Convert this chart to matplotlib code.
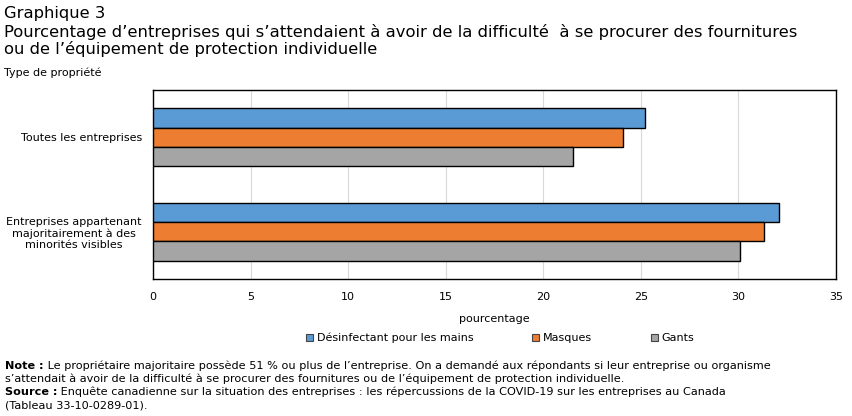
import numpy as np
import matplotlib
matplotlib.use("Agg")
import matplotlib.pyplot as plt
from matplotlib.patches import Patch

categories = ["Toutes les entreprises",
              "Entreprises appartenant\nmajoritairement à des\nminorités visibles"]
series = ["Désinfectant pour les mains", "Masques", "Gants"]
desinfectant = [25.2, 32.1]
masques = [24.1, 31.3]
gants = [21.5, 30.1]
colors = ["#5B9BD5", "#ED7D31", "#A5A5A5"]
xticks = [0, 5, 10, 15, 20, 25, 30, 35]

plt.rcParams['font.family'] = ['DejaVu Sans']

fig = plt.figure(figsize=(8.52, 4.16), dpi=100)
ax = fig.add_axes([153/852, 1 - 279/416, (836 - 153)/852, (279 - 90)/416])

y = np.arange(len(categories))
h = 0.205
for i, (vals, c) in enumerate(zip([desinfectant, masques, gants], colors)):
    ax.barh(y + (i - 1) * h, vals, height=h, color=c, edgecolor="black", linewidth=1, zorder=3)

ax.set_xlim(0, 35)
ax.set_ylim(1.5, -0.5)
ax.set_xticks(xticks)
ax.set_xticklabels([str(t) for t in xticks], fontsize=8)
ax.set_yticks(y)
ax.set_yticklabels(categories, fontsize=8, multialignment="center")
ax.tick_params(length=0, pad=8)
ax.tick_params(axis="x", pad=9)
ax.grid(axis="x", color="#d9d9d9", linewidth=0.8, zorder=0)
for s in ax.spines.values():
    s.set_linewidth(1)
ax.set_xlabel("pourcentage", fontsize=8, labelpad=9)

# titles
fig.text(4/852, 1 - 6/416, "Graphique 3", fontsize=11.8, color="black", va="top")
fig.text(4/852, 1 - 24/416,
         "Pourcentage d\u2019entreprises qui s\u2019attendaient à avoir de la difficulté  à se procurer des fournitures\n"
         "ou de l\u2019équipement de protection individuelle",
         fontsize=11.8, va="top", linespacing=1.05)
fig.text(4/852, 1 - 73/416, "Type de propriété", fontsize=8, va="center")

handles = [Patch(facecolor=c, edgecolor="#444444", linewidth=0.8) for c in colors]
fig.legend(handles, series, loc="center", bbox_to_anchor=(500/852, 1 - 338/416), ncol=3,
           frameon=False, fontsize=8, handlelength=0.65, handleheight=0.65,
           handletextpad=0.3, columnspacing=5.3)

# notes
fig.canvas.draw()
r = fig.canvas.get_renderer()
lines = [
    ("Note :", " Le propriétaire majoritaire possède 51 % ou plus de l\u2019entreprise. On a demandé aux répondants si leur entreprise ou organisme", 366),
    ("", "s\u2019attendait à avoir de la difficulté à se procurer des fournitures ou de l\u2019équipement de protection individuelle.", 379),
    ("Source :", " Enquête canadienne sur la situation des entreprises : les répercussions de la COVID-19 sur les entreprises au Canada", 392),
    ("", "(Tableau 33-10-0289-01).", 405),
]
for bold, rest, yy in lines:
    x0 = 5
    if bold:
        t = fig.text(x0/852, 1 - yy/416, bold, fontsize=8.1, fontweight="bold", va="center")
        x0 += t.get_window_extent(r).width
    fig.text(x0/852, 1 - yy/416, rest, fontsize=8.1, va="center")

fig.savefig("out.png", dpi=100)
